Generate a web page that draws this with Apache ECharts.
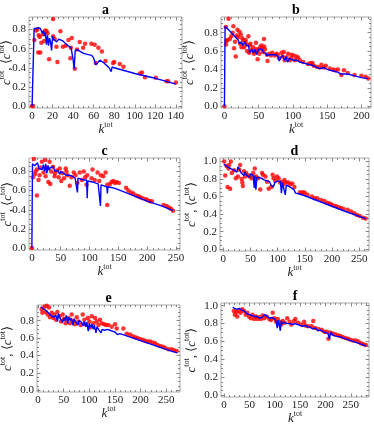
<!DOCTYPE html>
<html>
<head>
<meta charset="utf-8">
<script src="https://cdn.jsdelivr.net/npm/echarts@6/dist/echarts.min.js"></script>
<style>
html, body { margin: 0; padding: 0; background: #fff; }
#chart { width: 374px; height: 428px; }
</style>
</head>
<body>
<div id="chart"></div>
<script>
// tick labels
var ticksA = [0, 20, 40, 60, 80, 100, 120, 140];
var ticks50 = [0, 50, 100, 150, 200];
var ticks250 = [0, 50, 100, 150, 200, 250];
var ticksC8 = [0, 0.2, 0.4, 0.6, 0.8];
var ticksC10 = [0, 0.2, 0.4, 0.6, 0.8, 1.0];

// panel a
var aDotK = [0,1,2.3,4,5,6,6.5,7.5,8,9,10.7,11.7,13,14,15,16.6,20.5,20.5,22,23.7,24.7,27.6,30,32.8,35.4,37.3,37.7,38.6,41.6,43.8,46.4,49.7,51.6,57.8,61,62,64.6,68,71.5,79,80,85.4,89,105,107,110,120.5,131,132.5,140];
var aDotC = [0,0,0.69,0.79,0.80,0.56,0.74,0.72,0.56,0.66,0.75,0.68,0.79,0.78,0.76,0.49,0.91,0.73,0.70,0.62,0.46,0.78,0.62,0.63,0.69,0.50,0.61,0.71,0.39,0.59,0.67,0.61,0.65,0.65,0.64,0.45,0.61,0.57,0.47,0.45,0.46,0.44,0.41,0.34,0.35,0.30,0.295,0.26,0.26,0.245];
var aLineK = [0,1,2,3,4,5,6,7,8,9,10,11,12,13,14,15,16,17,18,19,20,21,22,24,26,30,35,38,39,40,41,42,44,50,58,60,62,63,66,70,75,77,78,80,100,120,130,140];
var aLineC = [0,0,0.81,0.80,0.81,0.82,0.82,0.80,0.81,0.79,0.76,0.79,0.73,0.77,0.64,0.74,0.63,0.71,0.67,0.58,0.73,0.70,0.71,0.67,0.70,0.68,0.63,0.61,0.60,0.48,0.39,0.58,0.59,0.55,0.53,0.50,0.43,0.44,0.48,0.45,0.40,0.36,0.41,0.40,0.34,0.29,0.26,0.23];

// panel b
var bDotK = [0,2,2.4,4.4,6,10,13,15.5,16.5,19,20,22,23,24,25,27.6,28.6,30.5,32.5,35,36,38,40,42,44.6,46,48.5,49.5,52,54,56.7,57.7,59,63,65.5,70,73.7,76,80,83.4,86.8,88,90.7,95.5,98,101,105,107.6,110,125.6,128.5,130.4,139,141.6,148,153.7,158.5,165.8,170.7,174.5,190,206,210,
  3,8,12,14,18,26,31,33,37,43,47,51,55,58,62,68,78,85,93,97,103,115,122,135,145,162,180,200];
var bDotC = [0,0.86,0.67,0.72,0.95,0.76,0.87,0.70,0.54,0.83,0.75,0.81,0.68,0.78,0.64,0.72,0.64,0.70,0.67,0.76,0.58,0.68,0.61,0.64,0.59,0.69,0.51,0.61,0.64,0.66,0.59,0.73,0.62,0.49,0.57,0.58,0.55,0.57,0.52,0.58,0.59,0.50,0.53,0.50,0.56,0.55,0.54,0.53,0.50,0.47,0.47,0.44,0.42,0.45,0.44,0.41,0.40,0.40,0.34,0.39,0.34,0.32,0.30,
  0.71,0.73,0.80,0.63,0.77,0.74,0.72,0.60,0.66,0.57,0.62,0.57,0.62,0.65,0.56,0.55,0.56,0.54,0.57,0.52,0.50,0.48,0.46,0.43,0.42,0.39,0.36,0.33];
var bLineK = [0,1,5,10,15,20,22,25,27,30,32,35,37,40,42,45,47,50,52,55,57,60,62,65,70,72,75,78,80,82,85,88,90,92,95,97,100,105,110,120,130,135,140,145,150,155,160,165,170,172,180,190,200,210];
var bLineC = [0,0.87,0.84,0.80,0.76,0.72,0.68,0.70,0.66,0.70,0.66,0.66,0.58,0.62,0.58,0.62,0.56,0.62,0.60,0.62,0.58,0.58,0.55,0.56,0.56,0.54,0.56,0.54,0.49,0.53,0.55,0.50,0.54,0.48,0.52,0.53,0.50,0.50,0.48,0.46,0.44,0.42,0.41,0.42,0.40,0.39,0.38,0.37,0.35,0.37,0.35,0.33,0.31,0.30];

// panel c
var cDotK = [0,3.5,6.4,8.7,8.7,11.6,13.4,17.4,20.3,23.3,23.8,26.7,28.5,30.8,32,33.7,36.6,39.5,43.6,46.5,48.3,51,53,55.8,58.7,61.6,65.7,68.6,72.7,75.6,79,83,86.6,90,92.4,94.8,96,103.5,105.2,109,114,116.9,119.8,123.8,127.9,130.8,130.8,135.5,138.4,141.3,144.2,147,151,163.4,167.4,172,176,180.8,184.9,187.8,192.4,197.7,201,205,208,228.5,234,238.4,241.3,245,
  2,5,15,40,60];
var cDotC = [0,0.93,0.80,0.55,0.82,0.71,0.76,0.90,0.79,0.92,0.75,0.84,0.69,0.90,0.67,0.80,0.85,0.75,0.81,0.74,0.83,0.70,0.78,0.73,0.83,0.76,0.65,0.74,0.79,0.76,0.68,0.79,0.71,0.80,0.74,0.66,0.76,0.73,0.82,0.71,0.79,0.70,0.76,0.75,0.79,0.66,0.45,0.67,0.69,0.70,0.68,0.69,0.68,0.63,0.60,0.58,0.57,0.55,0.54,0.53,0.52,0.51,0.50,0.49,0.49,0.45,0.44,0.42,0.41,0.39,
  0.74,0.77,0.84,0.78,0.80];
var cLineK = [0,1,5,8,10,12,15,18,20,22,24,26,28,30,32,35,37,40,45,48,50,55,58,60,65,70,75,78,79,80,85,90,95,96,97,100,105,110,115,118,119,120,125,130,131,132,140,150,175,200,225,245];
var cLineC = [0,0.88,0.86,0.84,0.89,0.83,0.85,0.82,0.87,0.80,0.88,0.78,0.86,0.81,0.84,0.82,0.85,0.80,0.81,0.77,0.80,0.78,0.80,0.76,0.76,0.75,0.73,0.74,0.58,0.73,0.72,0.71,0.71,0.52,0.70,0.70,0.69,0.68,0.67,0.66,0.44,0.66,0.65,0.64,0.57,0.64,0.63,0.61,0.55,0.49,0.44,0.39];

// panel d
var dDotK = [1.8,3.6,6,7.9,9.7,10.9,12.7,13.9,15.7,20,23,27,29,31,34,35,36,38,40,42,46,49,52,55,58,60.5,64,68,71.4,73,77.5,80.5,83.5,88.4,90.8,92.6,95.6,98.7,101.7,104.7,107.7,110.8,112.6,115.6,119.9,122.9,127,130.8,141,144,147,150,155,163,168,173,180,186,191,195.5,198.5,203,207.6,212,216.7,221.5,228.8,234.9,241,245.8,251,257,262];
var dDotC = [1.0,0.84,0.95,0.71,0.92,0.96,0.69,1.0,0.87,0.90,0.81,0.83,0.91,0.96,0.80,0.76,0.72,0.89,0.83,0.87,0.84,0.83,0.81,0.87,0.92,0.83,0.81,0.68,0.87,0.85,0.83,0.77,0.69,0.71,0.85,0.81,0.78,0.83,0.81,0.76,0.77,0.74,0.79,0.76,0.76,0.74,0.75,0.71,0.65,0.64,0.65,0.64,0.62,0.60,0.58,0.58,0.56,0.55,0.53,0.52,0.51,0.50,0.49,0.48,0.47,0.46,0.45,0.43,0.41,0.39,0.38,0.36,0.35];
var dLineK = [1,10,20,25,27,30,33,35,38,40,42,45,48,50,52,55,57,58,60,62,65,70,75,80,85,88,92,95,100,105,107,109,112,114,116,120,125,130,133,140,150,175,200,225,262];
var dLineC = [0.97,0.93,0.90,0.88,0.94,0.92,0.87,0.89,0.84,0.88,0.85,0.87,0.82,0.86,0.84,0.84,0.70,0.84,0.68,0.82,0.82,0.81,0.79,0.78,0.77,0.73,0.71,0.76,0.78,0.77,0.64,0.76,0.74,0.62,0.73,0.72,0.70,0.68,0.64,0.63,0.61,0.55,0.49,0.43,0.35];

// panel e
var eDotK = [7.2,8.4,12.3,15,16.9,18.9,21.5,23.4,26.7,29.9,31.9,35.1,37.7,41.6,44.9,48.1,50.7,54,55.9,59.2,62.4,65.7,69,72.2,75.5,78.7,83.3,87.2,90.4,93.7,97,100.2,101.5,104.7,108,111.3,114.5,117.8,121,124.2,128.8,132.7,137.3,143.8,150.3,153.5,166.5,173,179.5,184.7,189.3,193.8,199,204.2,208.8,213.3,218.5,223.7,228.3,232.9,238.1,243.3,247.8,254.3,260.8,265.4,270.6];
var eDotC = [0.93,0.89,0.96,0.90,0.97,0.87,0.95,0.84,0.89,0.83,0.87,0.81,0.90,0.85,0.79,0.87,0.82,0.77,0.81,0.83,0.77,0.87,0.80,0.76,0.84,0.79,0.75,0.87,0.81,0.76,0.83,0.79,0.72,0.85,0.77,0.83,0.79,0.75,0.81,0.77,0.76,0.75,0.75,0.73,0.76,0.71,0.71,0.65,0.64,0.62,0.61,0.60,0.59,0.58,0.57,0.56,0.56,0.55,0.54,0.52,0.51,0.50,0.49,0.47,0.47,0.46,0.45];
var eLineK = [5,10,15,20,25,30,35,38,40,42,45,48,50,52,55,58,60,63,65,68,70,73,75,78,80,85,88,90,93,95,98,100,103,105,108,110,113,115,118,120,123,125,130,135,140,145,150,155,160,170,180,190,200,220,240,260,272];
var eLineC = [0.96,0.94,0.92,0.89,0.86,0.84,0.86,0.79,0.88,0.84,0.86,0.78,0.83,0.80,0.86,0.77,0.84,0.80,0.83,0.75,0.82,0.79,0.81,0.75,0.80,0.78,0.74,0.79,0.73,0.78,0.68,0.77,0.72,0.76,0.70,0.75,0.66,0.73,0.70,0.72,0.66,0.70,0.69,0.70,0.69,0.68,0.67,0.64,0.65,0.63,0.61,0.59,0.57,0.53,0.49,0.45,0.43];

// panel f
var fDotK = [19.3,21.3,24.7,26,29.3,32.7,36,39.3,42.7,46,49.3,52.7,56,59.3,62.7,66,69.3,72.7,76,79.3,84,89.3,92.7,96,99.3,102.7,106,109.3,112.7,116,119.3,124.7,129.3,132.7,138,140.7,146,152.7,158,160.7,166,172.7,176,179.3,186,192.7,198,202.7,206,209.3,214,219.3,224.7,229.3,234,239.3,244.7,249.3,254.7,260,265.3,270,274.7,280];
var fDotC = [0.94,0.90,0.93,0.88,0.94,0.92,0.96,0.94,0.90,0.92,0.88,0.86,0.90,0.85,0.88,0.85,0.87,0.85,0.89,0.86,0.88,0.85,0.84,0.92,0.86,0.82,0.85,0.82,0.79,0.83,0.81,0.86,0.82,0.79,0.83,0.85,0.81,0.79,0.82,0.78,0.77,0.77,0.83,0.75,0.74,0.73,0.71,0.71,0.63,0.70,0.69,0.68,0.67,0.66,0.65,0.64,0.63,0.62,0.61,0.61,0.60,0.58,0.57,0.56];
var fLineK = [17,25,30,35,40,45,50,55,60,65,70,75,80,85,90,95,100,103,105,107,109,111,113,115,120,125,130,135,140,145,150,155,160,165,170,175,180,185,190,195,200,205,208,210,215,220,230,240,250,260,270,280];
var fLineC = [0.98,0.96,0.97,0.95,0.94,0.91,0.90,0.89,0.88,0.88,0.86,0.87,0.90,0.88,0.86,0.87,0.85,0.82,0.75,0.84,0.78,0.72,0.83,0.80,0.81,0.80,0.80,0.79,0.80,0.79,0.78,0.77,0.78,0.76,0.76,0.74,0.75,0.72,0.73,0.71,0.70,0.69,0.63,0.70,0.67,0.66,0.65,0.63,0.61,0.59,0.57,0.55];

var FONT = 'Liberation Serif';

// layout of the six framed panels
var panels = [
  { name: 'a', dotK: aDotK, dotC: aDotC, lineK: aLineK, lineC: aLineC, xt: ticksA, yt: ticksC8, box: [29, 17, 153, 91], xr: [-3, 146], yr: [-0.02, 0.93], mx: 5, yGap: 16 },
  { name: 'b', dotK: bDotK, dotC: bDotC, lineK: bLineK, lineC: bLineC, xt: ticks50, yt: ticksC8, box: [221, 17, 150, 91], xr: [-5, 214], yr: [-0.02, 0.97], mx: 10, yGap: 25 },
  { name: 'c', dotK: cDotK, dotC: cDotC, lineK: cLineK, lineC: cLineC, xt: ticks250, yt: ticksC8, box: [29, 158, 151, 92], xr: [-5, 257], yr: [-0.02, 0.94], mx: 10, yGap: 15 },
  { name: 'd', dotK: dDotK, dotC: dDotC, lineK: dLineK, lineC: dLineC, xt: ticks250, yt: ticksC10, box: [220, 158, 149, 93], xr: [-6, 268], yr: [-0.02, 1.04], mx: 10, yGap: 22 },
  { name: 'e', dotK: eDotK, dotC: eDotC, lineK: eLineK, lineC: eLineC, xt: ticks250, yt: ticksC8, box: [37, 305, 143, 87], xr: [-2, 277], yr: [-0.02, 0.98], mx: 10, yGap: 23 },
  { name: 'f', dotK: fDotK, dotC: fDotC, lineK: fLineK, lineC: fLineC, xt: ticks250, yt: ticksC10, box: [221, 303, 148, 94], xr: [-6, 286], yr: [-0.02, 1.03], mx: 10, yGap: 23 }
];

function pairs(k, c) {
  return k.map(function (v, i) { return [v, c[i]]; });
}

// minor tick positions between the labelled ones
function minors(r, step, majors) {
  var out = [];
  var s = Math.ceil(r[0] / step);
  for (var n = s; n * step <= r[1] + 1e-9; n++) {
    var v = +(n * step).toFixed(4);
    if (majors.indexOf(v) < 0) out.push(v);
  }
  return out;
}

var nameRich = {
  i: { fontFamily: FONT, fontStyle: 'italic', fontSize: 13, color: '#222', verticalAlign: 'bottom', lineHeight: 15 },
  s: { fontFamily: FONT, fontSize: 8, color: '#222', verticalAlign: 'top', lineHeight: 15 },
  n: { fontFamily: FONT, fontSize: 13, color: '#222', verticalAlign: 'bottom', lineHeight: 15 }
};

var option = {
  animation: false,
  backgroundColor: '#fff',
  grid: [],
  xAxis: [],
  yAxis: [],
  series: [],
  graphic: []
};

panels.forEach(function (p, i) {
  option.grid.push({
    left: p.box[0], top: p.box[1], width: p.box[2], height: p.box[3],
    show: true, borderColor: '#a8a8a8', borderWidth: 1,
    containLabel: false, outerBoundsMode: 'none'
  });

  var xMinor = minors(p.xr, p.mx, p.xt);
  var yMinor = minors(p.yr, 0.05, p.yt);

  [['bottom', p.xt, 3.5, true], ['bottom', xMinor, 2, false], ['top', p.xt, 3.5, false], ['top', xMinor, 2, false]].forEach(function (s) {
    option.xAxis.push({
      type: 'value', gridIndex: i, position: s[0], min: p.xr[0], max: p.xr[1],
      axisLine: { show: false, onZero: false },
      splitLine: { show: false },
      axisTick: { show: true, inside: true, length: s[2], customValues: s[1], lineStyle: { color: '#888', width: 1 } },
      axisLabel: {
        show: s[3], customValues: p.xt, margin: 3,
        fontFamily: FONT, fontSize: 11, color: '#222'
      },
      name: s[3] ? '{i|k}{s|tot}' : '',
      nameLocation: 'middle', nameGap: 13, nameMoveOverlap: false,
      nameTextStyle: { rich: nameRich }
    });
  });

  [['left', p.yt, 3.5, true], ['left', yMinor, 2, false], ['right', p.yt, 3.5, false], ['right', yMinor, 2, false]].forEach(function (s) {
    option.yAxis.push({
      type: 'value', gridIndex: i, position: s[0], min: p.yr[0], max: p.yr[1],
      axisLine: { show: false, onZero: false },
      splitLine: { show: false },
      axisTick: { show: true, inside: true, length: s[2], customValues: s[1], lineStyle: { color: '#888', width: 1 } },
      axisLabel: {
        show: s[3], customValues: p.yt, margin: 3,
        fontFamily: FONT, fontSize: 11, color: '#222',
        formatter: function (v) { return v.toFixed(1); }
      },
      name: s[3] ? '{i|c}{s|tot}{n|, ⟨}{i|c}{s|tot}{n|⟩}' : '',
      nameLocation: 'middle', nameGap: p.yGap, nameRotate: 90, nameMoveOverlap: false,
      nameTextStyle: { rich: nameRich }
    });
  });

  option.series.push({
    type: 'scatter', xAxisIndex: i * 4, yAxisIndex: i * 4,
    data: pairs(p.dotK, p.dotC),
    symbol: 'circle', symbolSize: 4.5,
    itemStyle: { color: '#ff0000' },
    z: 2
  });
  option.series.push({
    type: 'line', xAxisIndex: i * 4, yAxisIndex: i * 4,
    data: pairs(p.lineK, p.lineC),
    showSymbol: false, symbol: 'none',
    lineStyle: { color: '#0000ff', width: 1.4 },
    z: 3
  });

  option.graphic.push({
    type: 'text',
    x: p.box[0] + p.box[2] / 2,
    y: p.box[1] - 7,
    style: {
      text: p.name, fill: '#000',
      font: 'bold 14px "' + FONT + '"',
      textAlign: 'center', textVerticalAlign: 'middle',
      align: 'center', verticalAlign: 'middle'
    }
  });
});

var chart = echarts.init(document.getElementById('chart'), null, { renderer: 'canvas' });
chart.setOption(option);
</script>
</body>
</html>
